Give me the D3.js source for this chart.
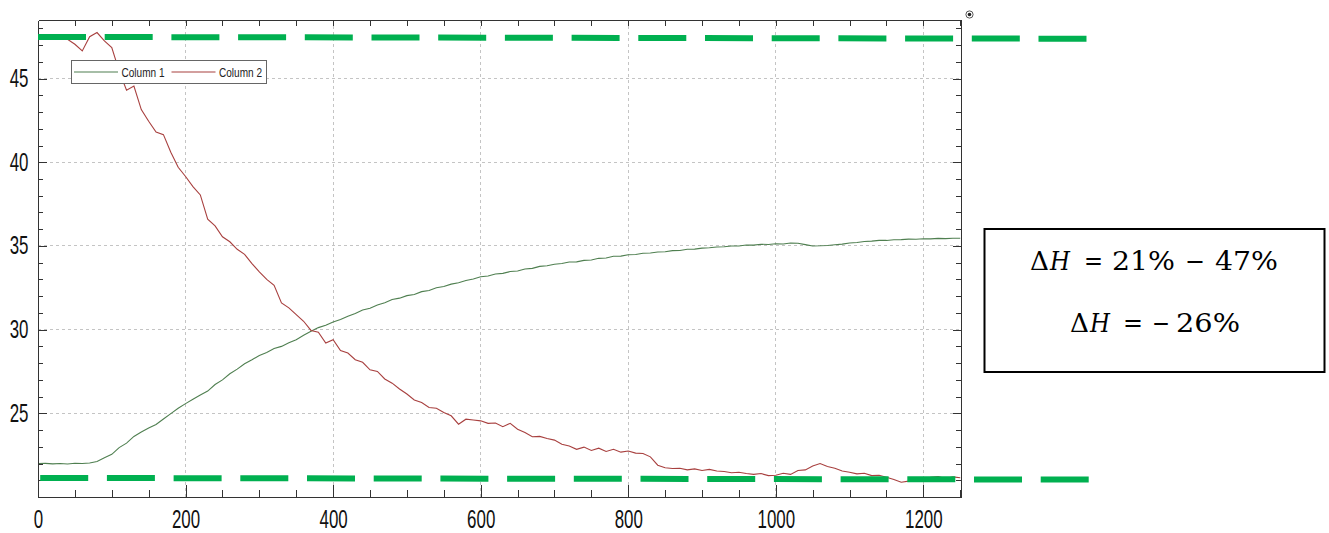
<!DOCTYPE html>
<html>
<head>
    <meta charset="UTF-8">
    <title>Column 1 / Column 2 curves</title>
    <script src="https://d3js.org/d3.v7.min.js"></script>
    <style>
        body { margin: 0; background: #fff; }
        .axis path, .axis line { stroke: #333; shape-rendering: crispEdges; }
        .axis text { font-family: "Liberation Sans Narrow", "Liberation Sans", Arial, sans-serif; font-size: 25px; fill: #111; }
        .grid line { stroke: #c4c4c4; stroke-dasharray: 3,3; shape-rendering: crispEdges; }
        .legend text { font-family: "Liberation Sans Narrow", "Liberation Sans", Arial, sans-serif; font-size: 13.5px; fill: #222; }
        .note text { font-family: "DejaVu Serif", "Liberation Serif", serif; font-size: 26px; fill: #000; }
    </style>
</head>
<body>
<div id="chart"></div>
<script>

// sample times, every 10 s
var times = d3.range(0, 1251, 10);

// Column 1 (green), one row per 100 s
var column1 = [
    22.00, 22.01, 21.98, 22.00, 21.97, 22.02, 22.00, 22.03, 22.12, 22.35,
    22.55, 22.95, 23.22, 23.62, 23.88, 24.12, 24.33, 24.66, 24.98, 25.30,
    25.58, 25.84, 26.10, 26.33, 26.72, 27.00, 27.36, 27.64, 27.96, 28.20,
    28.46, 28.63, 28.87, 29.00, 29.22, 29.40, 29.66, 29.90, 30.12, 30.26,
    30.46, 30.60, 30.80, 30.96, 31.17, 31.28, 31.47, 31.60, 31.80, 31.88,
    32.03, 32.10, 32.27, 32.34, 32.50, 32.58, 32.72, 32.80, 32.94, 33.03,
    33.16, 33.20, 33.32, 33.36, 33.47, 33.50, 33.62, 33.66, 33.78, 33.82,
    33.91, 33.95, 34.04, 34.05, 34.14, 34.16, 34.26, 34.28, 34.38, 34.39,
    34.47, 34.49, 34.56, 34.58, 34.64, 34.65, 34.72, 34.73, 34.80, 34.81,
    34.87, 34.89, 34.94, 34.95, 35.00, 35.00, 35.06, 35.05, 35.10, 35.09,
    35.13, 35.12, 35.18, 35.16, 35.08, 35.00, 35.01, 35.03, 35.07, 35.11,
    35.18, 35.21, 35.27, 35.29, 35.33, 35.33, 35.37, 35.38, 35.41, 35.40,
    35.43, 35.42, 35.45, 35.44, 35.46, 35.46
];

// Column 2 (red)
var column2 = [
    47.60, 47.52, 47.58, 47.40, 47.35, 47.05, 46.65, 47.50, 47.75, 47.25,
    46.85, 45.45, 44.30, 44.55, 43.15, 42.45, 41.80, 41.65, 40.60, 39.70,
    39.15, 38.55, 38.05, 36.60, 36.20, 35.55, 35.25, 34.80, 34.50, 33.95,
    33.45, 33.00, 32.65, 31.60, 31.30, 30.90, 30.50, 29.95, 29.85, 29.20,
    29.40, 28.75, 28.60, 28.20, 28.05, 27.60, 27.50, 27.05, 26.80, 26.45,
    26.15, 25.80, 25.65, 25.35, 25.30, 25.05, 24.85, 24.35, 24.65, 24.60,
    24.55, 24.40, 24.42, 24.20, 24.40, 24.05, 23.85, 23.60, 23.62, 23.50,
    23.40, 23.15, 23.05, 22.85, 22.98, 22.78, 22.92, 22.72, 22.85, 22.68,
    22.75, 22.62, 22.60, 22.40, 21.90, 21.75, 21.70, 21.72, 21.62, 21.68,
    21.58, 21.65, 21.55, 21.52, 21.45, 21.48, 21.40, 21.35, 21.40, 21.28,
    21.30, 21.42, 21.35, 21.58, 21.62, 21.85, 22.00, 21.82, 21.72, 21.55,
    21.48, 21.38, 21.42, 21.28, 21.30, 21.18, 21.05, 20.88, 20.95, 21.12,
    21.05, 21.18, 21.22, 21.10, 21.20, 21.15
];

var seriesNames = ["Column 1", "Column 2"];
var seriesColors = ["#4f7f50", "#a8403f"];

var xTicks = [0, 200, 400, 600, 800, 1000, 1200];
var yTicks = [25, 30, 35, 40, 45];

// the two green reference lines (start / end level), [time, value]
var refTop = [[0, 47.49], [1425, 47.38]];
var refBottom = [[3, 21.14], [1430, 21.04]];

// note box: each token with its left/right edge and baseline
var noteTokens = [
    {t: "\u0394", x0: 1030, x1: 1049, y: 270},
    {t: "H", x0: 1050, x1: 1070, y: 270, italic: true},
    {t: "=", x0: 1084, x1: 1103, y: 270},
    {t: "21%", x0: 1112, x1: 1175, y: 270},
    {t: "\u2212", x0: 1185, x1: 1205, y: 270},
    {t: "47%", x0: 1215, x1: 1278, y: 270},
    {t: "\u0394", x0: 1070, x1: 1089, y: 332},
    {t: "H", x0: 1090, x1: 1110, y: 332, italic: true},
    {t: "=", x0: 1123, x1: 1143, y: 332},
    {t: "\u2212", x0: 1152, x1: 1170, y: 332},
    {t: "26%", x0: 1176, x1: 1240, y: 332}
];

var width = 1329, height = 533;
var plot = {left: 38, right: 961, top: 20, bottom: 497};

var x = d3.scaleLinear().domain([0, 1251]).range([plot.left, plot.right]);
var y = d3.scaleLinear().domain([20, 48.5]).range([plot.bottom, plot.top]);

var svg = d3.select("#chart").append("svg")
        .attr("width", width)
        .attr("height", height)
        .style("background", "#fff");

svg.append("defs").append("clipPath").attr("id", "plotclip")
        .append("rect")
        .attr("x", plot.left).attr("y", plot.top)
        .attr("width", plot.right - plot.left).attr("height", plot.bottom - plot.top);

// grid
var grid = svg.append("g").attr("class", "grid");
grid.selectAll(".gx").data(xTicks.slice(1)).enter().append("line")
        .attr("x1", function (d) { return x(d); })
        .attr("x2", function (d) { return x(d); })
        .attr("y1", plot.top).attr("y2", plot.bottom);
grid.selectAll(".gy").data(yTicks).enter().append("line")
        .attr("y1", function (d) { return y(d); })
        .attr("y2", function (d) { return y(d); })
        .attr("x1", plot.left).attr("x2", plot.right);

// curves
var line = d3.line()
        .x(function (d) { return x(d[0]); })
        .y(function (d) { return y(d[1]); });

[column1, column2].forEach(function (vals, i) {
    svg.append("path")
            .datum(times.map(function (t, j) { return [t, vals[j]]; }))
            .attr("clip-path", "url(#plotclip)")
            .attr("fill", "none")
            .attr("stroke", seriesColors[i])
            .attr("stroke-width", 1.1)
            .attr("d", line);
});

// legend
var legend = svg.append("g").attr("class", "legend");
legend.append("rect")
        .attr("x", 71.5).attr("y", 60.5)
        .attr("width", 195).attr("height", 23)
        .attr("fill", "#fff").attr("stroke", "#666");
var item = legend.selectAll(".item").data(seriesNames).enter().append("g")
        .attr("transform", function (d, i) { return "translate(" + (74 + i * 97.5) + ",72)"; });
item.append("line")
        .attr("x1", 0).attr("x2", 44)
        .attr("stroke", function (d, i) { return seriesColors[i]; })
        .attr("stroke-width", 1.2);
item.append("text")
        .attr("x", 47.5).attr("y", 5)
        .attr("textLength", 43).attr("lengthAdjust", "spacingAndGlyphs")
        .text(function (d) { return d; });

// axes: major + minor ticks, all pointing inward
function digitsLen(d) { return String(d).length * 9.4; }

var xAxis = svg.append("g").attr("class", "axis")
        .attr("transform", "translate(0," + plot.bottom + ")")
        .call(d3.axisBottom(x).tickValues(xTicks).tickFormat(d3.format("d"))
                .tickSize(-12).tickSizeOuter(0).tickPadding(13));
xAxis.selectAll("text")
        .attr("textLength", digitsLen).attr("lengthAdjust", "spacingAndGlyphs");
svg.append("g").attr("class", "axis")
        .attr("transform", "translate(0," + plot.bottom + ")")
        .call(d3.axisBottom(x).tickValues(d3.range(50, 1251, 50)).tickSize(-7).tickSizeOuter(0).tickFormat(""));

var yAxis = svg.append("g").attr("class", "axis")
        .attr("transform", "translate(" + plot.left + ",0)")
        .call(d3.axisLeft(y).tickValues(yTicks).tickSize(-9).tickSizeOuter(0).tickPadding(9.5));
yAxis.selectAll("text")
        .attr("textLength", digitsLen).attr("lengthAdjust", "spacingAndGlyphs");
svg.append("g").attr("class", "axis")
        .attr("transform", "translate(" + plot.left + ",0)")
        .call(d3.axisLeft(y).tickValues(d3.range(21, 49, 1)).tickSize(-5).tickSizeOuter(0).tickFormat(""));

svg.append("g").attr("class", "axis")
        .attr("transform", "translate(0," + plot.top + ")")
        .call(d3.axisTop(x).tickValues(d3.range(50, 1251, 50)).tickSize(-6).tickSizeOuter(0).tickFormat(""));
svg.append("g").attr("class", "axis")
        .attr("transform", "translate(" + plot.right + ",0)")
        .call(d3.axisRight(y).tickValues(d3.range(21, 49, 1)).tickSize(-5).tickSizeOuter(0).tickFormat(""));
svg.append("g").attr("class", "axis")
        .attr("transform", "translate(" + plot.right + ",0)")
        .call(d3.axisRight(y).tickValues(yTicks).tickSize(-8).tickSizeOuter(0).tickFormat(""));

// small marker at top right corner
svg.append("circle").attr("cx", plot.right + 8.5).attr("cy", 14.5).attr("r", 3.6)
        .attr("fill", "#fff").attr("stroke", "#555").attr("stroke-width", 1);
svg.append("circle").attr("cx", plot.right + 8.5).attr("cy", 14.5).attr("r", 1.8)
        .attr("fill", "#222");

// green dashed reference lines
[refTop, refBottom].forEach(function (pts) {
    svg.append("path")
            .datum(pts)
            .attr("fill", "none")
            .attr("stroke", "#00b050")
            .attr("stroke-width", 6)
            .attr("stroke-dasharray", "48,18.7")
            .attr("d", line);
});

// note box
var note = svg.append("g").attr("class", "note");
note.append("rect")
        .attr("x", 984.5).attr("y", 229)
        .attr("width", 340).attr("height", 143)
        .attr("fill", "#fff").attr("stroke", "#000").attr("stroke-width", 2);

note.selectAll(".tok").data(noteTokens).enter().append("text")
        .attr("x", function (d) { return d.x0; })
        .attr("y", function (d) { return d.y; })
        .attr("textLength", function (d) { return d.x1 - d.x0; })
        .attr("lengthAdjust", "spacingAndGlyphs")
        .attr("font-style", function (d) { return d.italic ? "italic" : "normal"; })
        .text(function (d) { return d.t; });

</script>
</body>
</html>
